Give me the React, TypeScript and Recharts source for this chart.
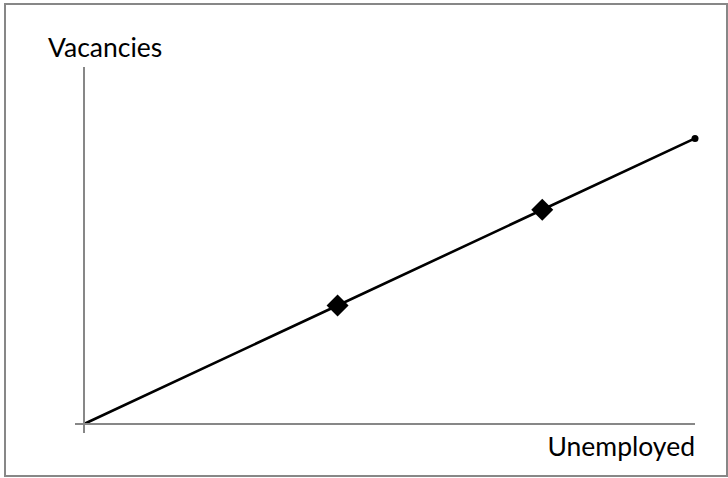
import React from 'react';
import { LineChart, Line, XAxis, YAxis } from 'recharts';

// Beveridge-style sketch: unemployed vs vacancies
const unemployed = [0, 4.15, 7.5, 10];
const vacancies = [0, 4.15, 7.5, 10];
const markerKinds = ['none', 'diamond', 'diamond', 'dot'];
const axisTicks = [0];

const data = unemployed.map((u, i) => ({ u, v: vacancies[i], kind: markerKinds[i] }));

const AXIS = '#878787';
const FONT = 'Lato, "Open Sans", sans-serif';

// tick mark only, no label
const NoLabel = () => <g />;

const Marker = (props: any) => {
  const { cx, cy, payload, index } = props;
  if (payload.kind === 'diamond') {
    const r = 11;
    return (
      <path
        key={`m-${index}`}
        d={`M${cx},${cy - r}L${cx + r},${cy}L${cx},${cy + r}L${cx - r},${cy}Z`}
        fill="#000"
      />
    );
  }
  if (payload.kind === 'dot') {
    return <circle key={`m-${index}`} cx={cx} cy={cy} r={3.5} fill="#000" />;
  }
  return <g key={`m-${index}`} />;
};

export default function App() {
  return (
    <div style={{ position: 'fixed', left: 0, top: 0, width: 728, height: 478, background: '#fff' }}>
      <LineChart
        width={728}
        height={478}
        data={data}
        margin={{ top: 67, right: 33, bottom: 44, left: 74 }}
      >
        <XAxis
          type="number"
          dataKey="u"
          domain={[0, 10]}
          ticks={axisTicks}
          interval={0}
          tick={<NoLabel />}
          height={10}
          tickSize={9}
          axisLine={{ stroke: AXIS, strokeWidth: 2 }}
          tickLine={{ stroke: AXIS, strokeWidth: 2 }}
        />
        <YAxis
          type="number"
          domain={[0, 12.5]}
          ticks={axisTicks}
          interval={0}
          tick={<NoLabel />}
          width={10}
          tickSize={9}
          axisLine={{ stroke: AXIS, strokeWidth: 2 }}
          tickLine={{ stroke: AXIS, strokeWidth: 2 }}
        />
        <Line
          type="linear"
          dataKey="v"
          stroke="#000"
          strokeWidth={2.6}
          dot={<Marker />}
          activeDot={false}
          isAnimationActive={false}
        />
      </LineChart>
      <svg
        width={728}
        height={478}
        style={{ position: 'absolute', left: 0, top: 0, pointerEvents: 'none' }}
      >
        <rect x={5} y={4} width={722} height={472} fill="none" stroke={AXIS} strokeWidth={2} />
        <text x={48} y={57} fontFamily={FONT} fontSize={26.5} fill="#000">Vacancies</text>
        <text x={695} y={456} textAnchor="end" fontFamily={FONT} fontSize={26.5} fill="#000">Unemployed</text>
      </svg>
    </div>
  );
}
